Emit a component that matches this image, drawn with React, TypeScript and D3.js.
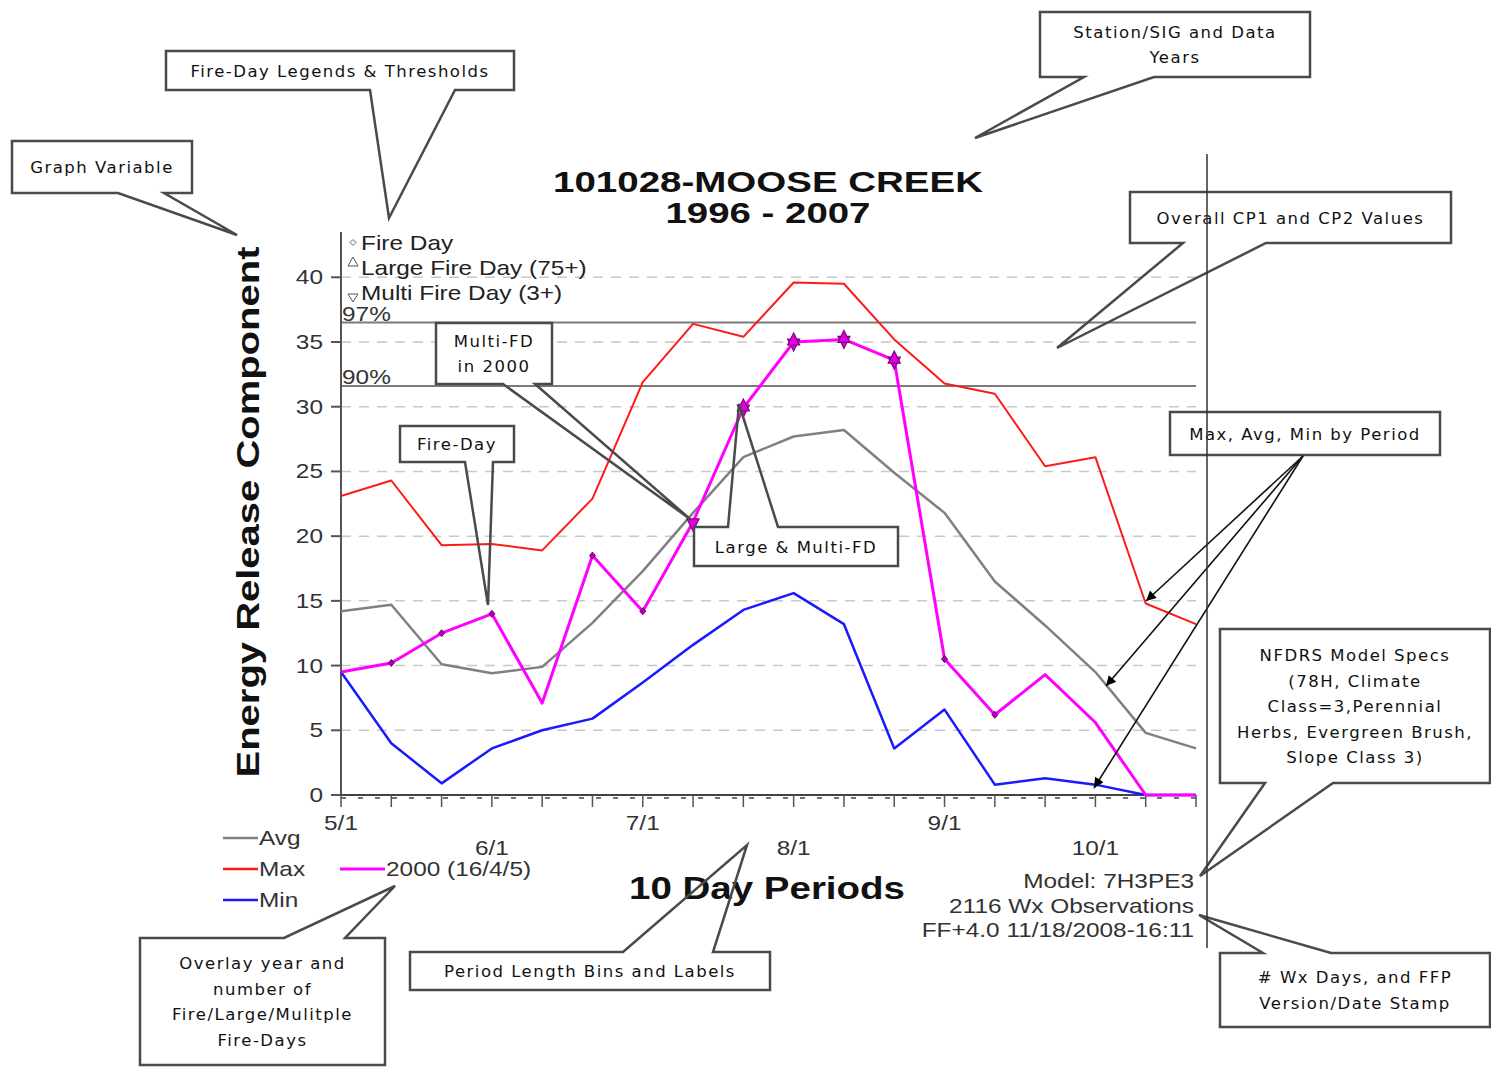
import * as d3 from 'd3';

// 10-day periods, May through October
const periods = ["5/1","5/11","5/21","6/1","6/11","6/21","7/1","7/11","7/21","8/1","8/11","8/21","9/1","9/11","9/21","10/1","10/11","10/21"];
const periodLabels = ["5/1","6/1","7/1","8/1","9/1","10/1"];
const yTicks = [0, 5, 10, 15, 20, 25, 30, 35, 40];

const avgErc = [14.2,14.7,10.1,9.4,9.9,13.3,17.3,21.8,26.1,27.7,28.2,24.9,21.8,16.5,13.1,9.5,4.8,3.6];
const maxErc = [23.1,24.3,19.3,19.4,18.9,22.9,31.9,36.4,35.4,39.6,39.5,35.2,31.8,31.0,25.4,26.1,14.8,13.2];
const minErc = [9.5,4.0,0.9,3.6,5.0,5.9,8.7,11.6,14.3,15.6,13.2,3.6,6.6,0.8,1.3,0.8,0,0];
const erc2000 = [9.5,10.2,12.5,14.0,7.1,18.5,14.2,21.1,29.9,35.0,35.2,33.6,10.5,6.2,9.3,5.6,0,0];

// marker periods for the 2000 overlay
const fireDays2000 = ["5/11","5/21","6/1","6/21","7/1","9/1","9/11"];
const largeFire2000 = ["7/21","8/1","8/11","8/21"];
const multiFire2000 = ["7/11","7/21","8/1","8/11","8/21"];

const p97 = 36.5;
const p90 = 31.6;

const font = "'Liberation Sans', Arial, sans-serif";
const noteFont = "'DejaVu Sans', Verdana, sans-serif";

type Box = { x: number, y: number, w: number, h: number };

// outline of a box with a wedge on the top or bottom edge
const callout = (b: Box, side: string, b1: number, b2: number, tip: number[]) => {
	if (side === "bottom")
		return `M${b.x},${b.y}H${b.x + b.w}V${b.y + b.h}H${b2}L${tip[0]},${tip[1]}L${b1},${b.y + b.h}H${b.x}Z`;
	if (side === "top")
		return `M${b.x},${b.y}H${b1}L${tip[0]},${tip[1]}L${b2},${b.y}H${b.x + b.w}V${b.y + b.h}H${b.x}Z`;
	return `M${b.x},${b.y}H${b.x + b.w}V${b.y + b.h}H${b.x}Z`;
};

const notes = [
	{ box: { x: 1040, y: 12, w: 270, h: 65 }, side: "bottom", b1: 1084, b2: 1154, tip: [975, 138], lines: ["Station/SIG and Data", "Years"] },
	{ box: { x: 166, y: 51, w: 348, h: 39 }, side: "bottom", b1: 370, b2: 455, tip: [389, 218], lines: ["Fire-Day Legends & Thresholds"] },
	{ box: { x: 12, y: 141, w: 180, h: 52 }, side: "bottom", b1: 118, b2: 164, tip: [237, 235], lines: ["Graph Variable"] },
	{ box: { x: 1130, y: 192, w: 321, h: 51 }, side: "bottom", b1: 1183, b2: 1266, tip: [1057, 348], lines: ["Overall CP1 and CP2 Values"] },
	{ box: { x: 436, y: 323, w: 116, h: 61 }, side: "bottom", b1: 503, b2: 535, tip: [690, 519], lines: ["Multi-FD", "in 2000"] },
	{ box: { x: 400, y: 426, w: 114, h: 36 }, side: "bottom", b1: 465, b2: 493, tip: [488, 605], lines: ["Fire-Day"] },
	{ box: { x: 694, y: 527, w: 204, h: 39 }, side: "top", b1: 728, b2: 778, tip: [739, 404], lines: ["Large & Multi-FD"] },
	{ box: { x: 1170, y: 412, w: 270, h: 43 }, side: "none", b1: 0, b2: 0, tip: [0, 0], lines: ["Max, Avg, Min by Period"] },
	{ box: { x: 1220, y: 629, w: 270, h: 154 }, side: "bottom", b1: 1265, b2: 1333, tip: [1200, 876], lines: ["NFDRS Model Specs", "(78H, Climate", "Class=3,Perennial", "Herbs, Evergreen Brush,", "Slope Class 3)"] },
	{ box: { x: 1220, y: 953, w: 270, h: 74 }, side: "top", b1: 1263, b2: 1331, tip: [1199, 915], lines: ["# Wx Days, and FFP", "Version/Date Stamp"] },
	{ box: { x: 140, y: 938, w: 245, h: 127 }, side: "top", b1: 284, b2: 345, tip: [395, 886], lines: ["Overlay year and", "number of", "Fire/Large/Mulitple", "Fire-Days"] },
	{ box: { x: 410, y: 952, w: 360, h: 38 }, side: "top", b1: 623, b2: 713, tip: [747, 845], lines: ["Period Length Bins and Labels"] },
];

const arrowFrom = [1303, 456];
const arrowTo = [[1146, 601], [1106, 686], [1094, 788]];

// chart text, stretched wide like the original raster fonts
const T = ({ x, y, children, anchor = "start", size = 20, fill = "#333" }: any) => (
	<text transform={`translate(${x},${y}) scale(1.22,1)`} textAnchor={anchor} fontFamily={font} fontSize={size} fill={fill}>{children}</text>
);

export default function App() {
	const width = 1491;
	const height = 1067;
	const left = 341, right = 1196, top = 232, bottom = 795;

	const x = d3.scalePoint().domain(periods).range([left, right]);
	const y = d3.scaleLinear().domain([0, 43.5]).range([bottom, top]);

	const line = d3.line<number>()
		// @ts-ignore
		.x((d, i) => x(periods[i]))
		.y(d => y(d));

	const series = [
		{ values: avgErc, color: "#808080", w: 2.5 },
		{ values: maxErc, color: "#ff1a1a", w: 2 },
		{ values: minErc, color: "#1a1aff", w: 2.5 },
		{ values: erc2000, color: "#ff00ff", w: 3 },
	];

	const val = (p: string) => erc2000[periods.indexOf(p)];

	return (
		<svg width={width} height={height} style={{ position: "absolute", left: 0, top: 0, display: "block", background: "#fff" }}>
			<defs>
				<marker id="arr" viewBox="0 0 10 10" refX="10" refY="5" markerWidth="14" markerHeight="10" markerUnits="userSpaceOnUse" orient="auto">
					<path d="M0,0L10,5L0,10Z" fill="#000" />
				</marker>
			</defs>

			{/* gridlines */}
			{yTicks.slice(1).map(t => (
				<line key={t} x1={left} x2={right} y1={y(t)} y2={y(t)} stroke="#c8c8c8" strokeWidth={1.5} strokeDasharray="10,8" />
			))}
			<line x1={left} x2={right} y1={y(p97)} y2={y(p97)} stroke="#7a7a7a" strokeWidth={2} />
			<line x1={left} x2={right} y1={y(p90)} y2={y(p90)} stroke="#7a7a7a" strokeWidth={2} />
			<T x={342} y={y(p97) - 2}>97%</T>
			<T x={342} y={y(p90) - 2}>90%</T>

			{/* axes */}
			<line x1={left} x2={left} y1={top} y2={bottom} stroke="#555" strokeWidth={2} />
			<line x1={left} x2={right} y1={bottom} y2={bottom} stroke="#444" strokeWidth={2} />
			<line x1={left} x2={right} y1={bottom + 3} y2={bottom + 3} stroke="#444" strokeWidth={1.5} strokeDasharray="5,12" />
			{yTicks.map(t => (
				<g key={t}>
					<line x1={left - 10} x2={left} y1={y(t)} y2={y(t)} stroke="#555" strokeWidth={2} />
					<T x={323} y={y(t) + 7} anchor="end">{t}</T>
				</g>
			))}
			{periods.map(p => (
				<line key={p} x1={x(p)} x2={x(p)} y1={bottom} y2={bottom + 12} stroke="#555" strokeWidth={1.5} />
			))}
			{periodLabels.map((p, i) => (
				<T key={p} x={x(p)} y={i % 2 === 0 ? 830 : 855} anchor="middle">{p}</T>
			))}

			{/* series */}
			{series.map((s, i) => (
				<path key={i} d={line(s.values) || ""} fill="none" stroke={s.color} strokeWidth={s.w} strokeLinejoin="round" />
			))}

			{/* 2000 fire-day markers */}
			{fireDays2000.map(p => (
				<path key={p} transform={`translate(${x(p)},${y(val(p))})`} d="M0,-3.5L3,0L0,3.5L-3,0Z" fill="#b000b0" stroke="#700070" strokeWidth={1} />
			))}
			{multiFire2000.map(p => (
				<path key={p} transform={`translate(${x(p)},${y(val(p))})`} d="M-6,-3L6,-3L0,9Z" fill="#e000e0" stroke="#800080" strokeWidth={1.2} />
			))}
			{largeFire2000.map(p => (
				<path key={p} transform={`translate(${x(p)},${y(val(p))})`} d="M0,-9L6,3L-6,3Z" fill="#e000e0" stroke="#800080" strokeWidth={1.2} />
			))}

			{/* fire-day legend */}
			<path d="M353,239.5L356,242.5L353,245.5L350,242.5Z" fill="none" stroke="#666" strokeWidth={1} />
			<T x={361} y={250} size={20} fill="#222">Fire Day</T>
			<path d="M353,257L358,266L348,266Z" fill="none" stroke="#555" strokeWidth={1} />
			<T x={361} y={275} size={20} fill="#222">Large Fire Day (75+)</T>
			<path d="M348,294L358,294L353,302Z" fill="none" stroke="#555" strokeWidth={1} />
			<T x={361} y={300} size={20} fill="#222">Multi Fire Day (3+)</T>

			{/* titles */}
			<text x={768} y={192} textAnchor="middle" fontFamily={font} fontWeight="bold" fontSize={29} fill="#111" textLength={430} lengthAdjust="spacingAndGlyphs">101028-MOOSE CREEK</text>
			<text x={768} y={223} textAnchor="middle" fontFamily={font} fontWeight="bold" fontSize={29} fill="#111" textLength={205} lengthAdjust="spacingAndGlyphs">1996 - 2007</text>
			<text transform="translate(259,512) rotate(-90)" textAnchor="middle" fontFamily={font} fontWeight="bold" fontSize={31} fill="#111" textLength={531} lengthAdjust="spacingAndGlyphs">Energy Release Component</text>
			<text x={767} y={899} textAnchor="middle" fontFamily={font} fontWeight="bold" fontSize={32} fill="#111" textLength={276} lengthAdjust="spacingAndGlyphs">10 Day Periods</text>

			{/* series legend */}
			{[["Avg", "#808080", 838], ["Max", "#ff1a1a", 869], ["Min", "#1a1aff", 900]].map(([name, c, ly]) => (
				<g key={name as string}>
					<line x1={223} x2={258} y1={ly as number} y2={ly as number} stroke={c as string} strokeWidth={2.5} />
					<T x={259} y={(ly as number) + 7}>{name}</T>
				</g>
			))}
			<line x1={340} x2={385} y1={869} y2={869} stroke="#ff00ff" strokeWidth={3} />
			<T x={386} y={876}>2000 (16/4/5)</T>

			{/* stamp */}
			<T x={1194} y={888} anchor="end">Model: 7H3PE3</T>
			<T x={1194} y={913} anchor="end">2116 Wx Observations</T>
			<T x={1194} y={937} anchor="end">FF+4.0 11/18/2008-16:11</T>

			{/* callouts */}
			{notes.map((n, i) => {
				const cx = n.box.x + n.box.w / 2;
				const lh = 25.5;
				const y0 = n.box.y + n.box.h / 2 - (n.lines.length - 1) * lh / 2 + 6;
				return (
					<g key={i}>
						<rect x={n.box.x} y={n.box.y} width={n.box.w} height={n.box.h} fill="#fff" />
						<path d={callout(n.box, n.side, n.b1, n.b2, n.tip)} fill="none" stroke="#4a4a4a" strokeWidth={2.5} strokeLinejoin="miter" />
						{n.lines.map((l, j) => (
							<text key={j} x={cx} y={y0 + j * lh} textAnchor="middle" fontFamily={noteFont} fontSize={16.5} letterSpacing={1.5} fill="#111">{l}</text>
						))}
					</g>
				);
			})}
			{arrowTo.map((t, i) => (
				<line key={i} x1={arrowFrom[0]} y1={arrowFrom[1]} x2={t[0]} y2={t[1]} stroke="#111" strokeWidth={1.6} markerEnd="url(#arr)" />
			))}

			{/* divider */}
			<line x1={1207} x2={1207} y1={154} y2={948} stroke="#333" strokeWidth={1.5} />
		</svg>
	);
}
